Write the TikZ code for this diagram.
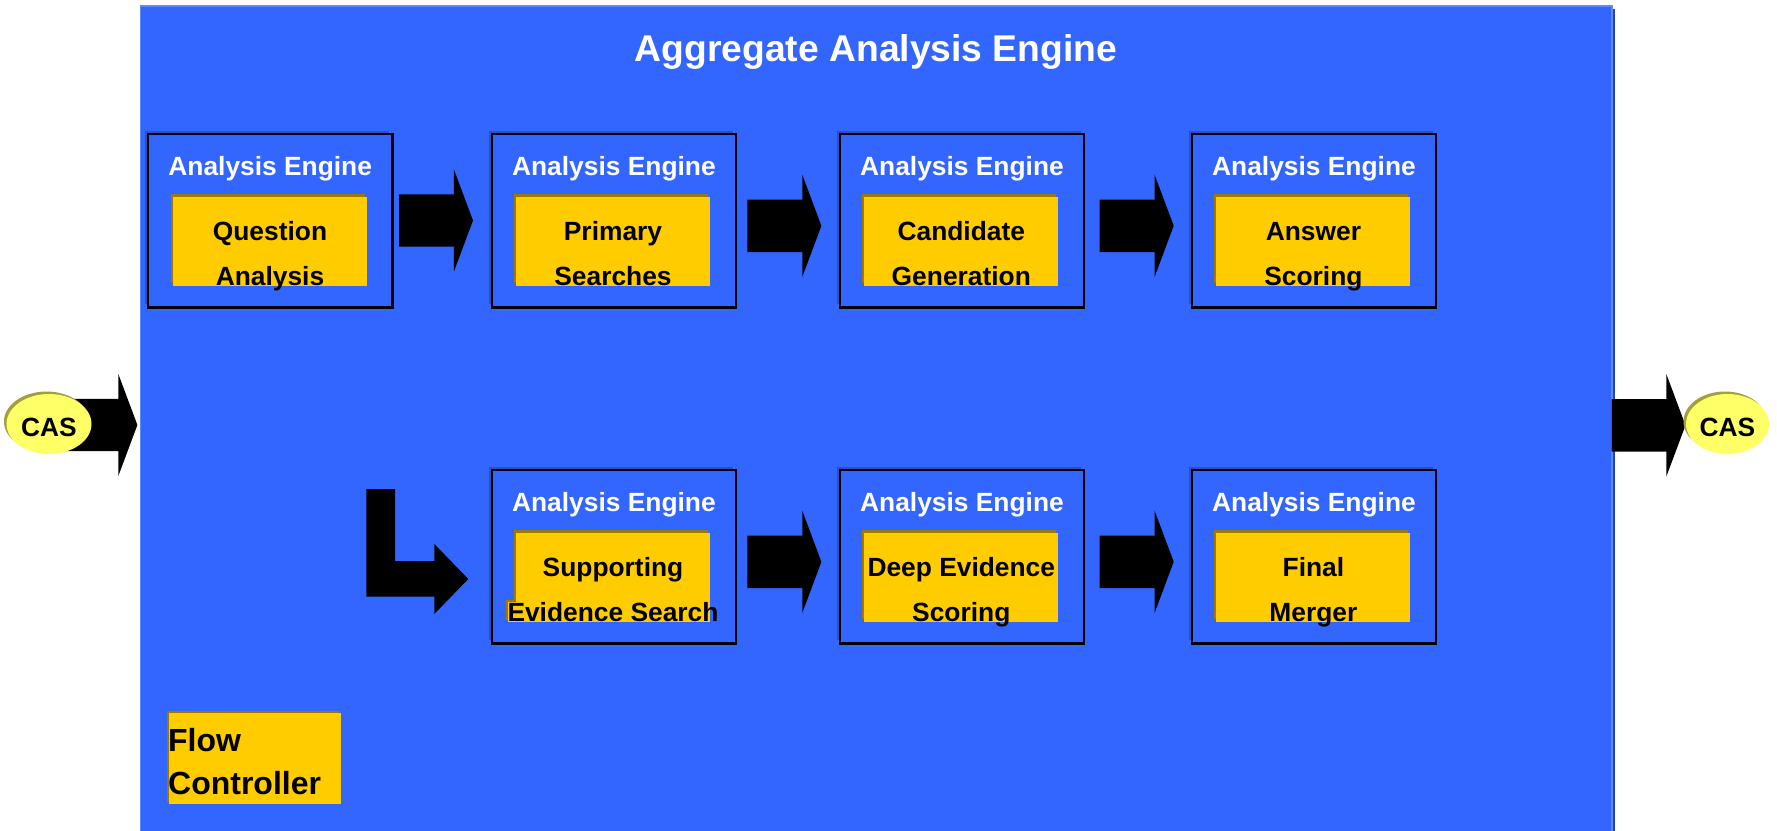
\documentclass[tikz,border=0pt]{standalone}
\usepackage{fontspec}
\setmainfont{Liberation Sans}
\usepackage{xcolor}
\usepackage{tikz}
\usetikzlibrary{shapes.geometric,shapes.arrows,shadows}
\definecolor{aeblue}{HTML}{3366FF}
\definecolor{aeedge}{HTML}{6088FF}
\definecolor{aedark}{HTML}{2846A8}
\definecolor{aeshade}{HTML}{2A50C8}
\definecolor{compyellow}{HTML}{FFCC00}
\definecolor{compshade}{HTML}{9C7A00}
\definecolor{casyellow}{HTML}{FFFF66}
\definecolor{casshade}{HTML}{A0A040}
\newcommand{\twolines}[2]{\begin{tabular}[t]{@{}c@{}}#1\\#2\end{tabular}}
\newcommand{\twolinesl}[2]{\begin{tabular}[t]{@{}l@{}}#1\\#2\end{tabular}}

\begin{document}
\begin{tikzpicture}
        \useasboundingbox (0,0) rectangle (17.77,-8.31);
        \tikzstyle{aggregate}=[fill=aeblue, draw=aeedge, line width=0.3pt, minimum width=14.715cm, minimum height=8.39cm, drop shadow={shadow xshift=0.03cm, shadow yshift=-0.03cm, fill=aedark, opacity=1}]
        \tikzstyle{engine}=[draw=black, line width=0.6pt, fill=aeblue, minimum width=2.445cm, minimum height=1.735cm, inner sep=0pt, drop shadow={shadow xshift=-0.03cm, shadow yshift=0.03cm, fill=aeshade, opacity=1}]
        \tikzstyle{comp}=[fill=compyellow, minimum width=1.94cm, minimum height=0.887cm, inner sep=0pt, drop shadow={shadow xshift=-0.022cm, shadow yshift=0.028cm, fill=compshade, opacity=1}]
        \tikzstyle{enginelabel}=[text=white, anchor=base, inner sep=0pt, font=\fontsize{7.5pt}{9pt}\selectfont\bfseries]
        \tikzstyle{comptext}=[anchor=base, inner sep=0pt, font=\fontsize{7.5pt}{12.8pt}\selectfont\bfseries]
        \tikzstyle{blockarrow}=[single arrow, fill=black, inner xsep=0pt, inner ysep=0.255cm, minimum width=1.01cm, single arrow head extend=0.25cm, single arrow tip angle=139, minimum height=0.74cm, anchor=tail]
        \tikzstyle{cas}=[ellipse, fill=casyellow, inner sep=0pt, minimum width=0.85cm, minimum height=0.6cm, text height=0.24cm, text depth=0cm, font=\fontsize{7.5pt}{9pt}\selectfont\bfseries, drop shadow={shadow xshift=-0.025cm, shadow yshift=0.025cm, fill=casshade, opacity=1}]

        \node[aggregate] (aae) at (8.7625,-4.255) {};
        \node[text=white, anchor=base, inner sep=0pt, font=\fontsize{10.6pt}{12pt}\selectfont\bfseries] (title) at (8.76,-0.61) {Aggregate Analysis Engine};

        \node[engine] (ae1) at (2.702,-2.207) {};
        \node[engine] (ae2) at (6.139,-2.207) {};
        \node[engine] (ae3) at (9.62,-2.207) {};
        \node[engine] (ae4) at (13.14,-2.207) {};
        \node[engine] (ae5) at (6.139,-5.567) {};
        \node[engine] (ae6) at (9.62,-5.567) {};
        \node[engine] (ae7) at (13.14,-5.567) {};

        \node[enginelabel] (ae1-label) at (2.702,-1.753) {Analysis Engine};
        \node[enginelabel] (ae2-label) at (6.139,-1.753) {Analysis Engine};
        \node[enginelabel] (ae3-label) at (9.62,-1.753) {Analysis Engine};
        \node[enginelabel] (ae4-label) at (13.14,-1.753) {Analysis Engine};
        \node[enginelabel] (ae5-label) at (6.139,-5.113) {Analysis Engine};
        \node[enginelabel] (ae6-label) at (9.62,-5.113) {Analysis Engine};
        \node[enginelabel] (ae7-label) at (13.14,-5.113) {Analysis Engine};

        \node[comp] (qa) at (2.70,-2.4135) {};
        \node[comp] (ps) at (6.13,-2.4135) {};
        \node[comp] (cg) at (9.613,-2.4135) {};
        \node[comp] (as) at (13.134,-2.4135) {};
        \node[comp] (ses) at (6.13,-5.7735) {};
        \fill[compshade] (5.06,-6.00) rectangle (5.14,-6.197);
        \fill[compyellow] (5.083,-6.023) rectangle (5.16,-6.217);
        \node[comp] (des) at (9.613,-5.7735) {};
        \node[comp] (fm) at (13.134,-5.7735) {};

        \node[comptext] (qa-text) at (2.70,-2.405) {\twolines{Question}{Analysis}};
        \node[comptext] (ps-text) at (6.13,-2.405) {\twolines{Primary}{Searches}};
        \node[comptext] (cg-text) at (9.613,-2.405) {\twolines{Candidate}{Generation}};
        \node[comptext] (as-text) at (13.134,-2.405) {\twolines{Answer}{Scoring}};
        \node[comptext] (ses-text) at (6.13,-5.765) {\twolines{Supporting}{Evidence Search}};
        \node[comptext] (des-text) at (9.613,-5.765) {\twolines{Deep Evidence}{Scoring}};
        \node[comptext] (fm-text) at (13.134,-5.765) {\twolines{Final}{Merger}};

        \node[blockarrow] (qa-ps) at (3.983,-2.205) {};
        \node[blockarrow] (ps-cg) at (7.467,-2.258) {};
        \node[blockarrow] (cg-as) at (10.99,-2.258) {};
        \node[blockarrow] (ses-des) at (7.467,-5.618) {};
        \node[blockarrow] (des-fm) at (10.99,-5.618) {};
        \fill (3.663,-4.89) -- (3.95,-4.89) -- (3.95,-5.61) -- (4.343,-5.61) -- (4.343,-5.44) -- (4.683,-5.79) -- (4.343,-6.14) -- (4.343,-5.967) -- (3.663,-5.967) -- cycle;

        \node[comp, minimum width=1.717cm, minimum height=0.91cm] (fc) at (2.5485,-7.588) {};
        \node[anchor=base west, inner sep=0pt, font=\fontsize{9.1pt}{12.12pt}\selectfont\bfseries] (fc-text) at (1.675,-7.517) {\twolinesl{Flow}{Controller}};

        \node[blockarrow, minimum height=0.877cm] (cas-aae) at (0.49,-4.25) {};
        \node[blockarrow] (aae-cas) at (16.108,-4.253) {};
        \node[cas] (cas-in) at (0.49,-4.24) {CAS};
        \node[cas, minimum width=0.83cm] (cas-out) at (17.275,-4.24) {CAS};
    \end{tikzpicture}
\end{document}
